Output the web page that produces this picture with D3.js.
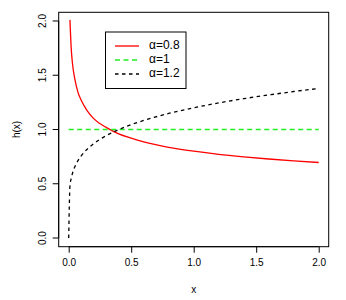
<!DOCTYPE html>
<html>
<head>
<meta charset="utf-8">
<script src="https://cdn.jsdelivr.net/npm/d3@7"></script>
<style>
  body { margin: 0; background: #fff; }
  svg text { font-family: "Liberation Sans", Arial, sans-serif; }
</style>
</head>
<body>
<div class="canvas-container"></div>
<script>

// values
var xs = [0, 0.01, 0.02, 0.03, 0.05, 0.075, 0.1, 0.15, 0.2, 0.3, 0.4, 0.5, 0.6, 0.8, 1.0, 1.2, 1.4, 1.6, 1.8, 2.0];
var h08 = [null, 2.01, 1.75, 1.61, 1.46, 1.34, 1.27, 1.17, 1.10, 1.02, 0.96, 0.92, 0.886, 0.836, 0.80, 0.771, 0.748, 0.728, 0.711, 0.696];
var h10 = [1, 1, 1, 1, 1, 1, 1, 1, 1, 1, 1, 1, 1, 1, 1, 1, 1, 1, 1, 1];
var h12 = [0, 0.478, 0.549, 0.595, 0.659, 0.715, 0.757, 0.821, 0.870, 0.943, 0.999, 1.045, 1.083, 1.148, 1.20, 1.245, 1.284, 1.318, 1.350, 1.378];

var xTicks = [0, 0.5, 1.0, 1.5, 2.0];
var yTicks = [0, 0.5, 1.0, 1.5, 2.0];
var legendLabels = ["\u03b1=0.8", "\u03b1=1", "\u03b1=1.2"];

var width = 346, height = 300;

var svg = d3.select("div.canvas-container")
    .append("svg")
    .attr("width", width)
    .attr("height", height);

var x = d3.scaleLinear().domain([-0.08, 2.08]).range([58.7, 328.7]);
var y = d3.scaleLinear().domain([-0.08, 2.08]).range([246.7, 12.3]);

var series = [
    {vals: h08, color: "#ff0000", dash: null},
    {vals: h10, color: "#22ee22", dash: "5,3.5"},
    {vals: h12, color: "#000000", dash: "3.5,3.5"}
];

series.forEach(function (s) {
    var pts = xs.map(function (d, i) { return [d, s.vals[i]]; })
        .filter(function (p) { return p[1] !== null; });
    svg.append("path")
        .datum(pts)
        .attr("fill", "none")
        .attr("stroke", s.color)
        .attr("stroke-width", 1.3)
        .attr("stroke-dasharray", s.dash)
        .attr("d", d3.line()
              .x(function (p) { return x(p[0]); })
              .y(function (p) { return y(p[1]); })
              .curve(d3.curveMonotoneX));
});

// box
svg.append("rect")
    .attr("x", x.range()[0])
    .attr("y", y.range()[1])
    .attr("width", x.range()[1] - x.range()[0])
    .attr("height", y.range()[0] - y.range()[1])
    .attr("fill", "none")
    .attr("stroke", "#000")
    .attr("stroke-width", 1);

// axes
var xAxis = svg.append("g")
    .attr("transform", "translate(0," + y.range()[0] + ")")
    .call(d3.axisBottom(x).tickValues(xTicks).tickSize(6).tickPadding(6)
          .tickFormat(d3.format(".1f")).tickSizeOuter(0));
xAxis.select(".domain").attr("d", "M" + x(0) + ",0H" + x(2));
xAxis.selectAll("text").attr("font-size", 10).attr("fill", "#000");

var yAxis = svg.append("g")
    .attr("transform", "translate(" + x.range()[0] + ",0)")
    .call(d3.axisLeft(y).tickValues(yTicks).tickSize(6)
          .tickFormat(d3.format(".1f")).tickSizeOuter(0));
yAxis.select(".domain").attr("d", "M0," + y(0) + "V" + y(2));
yAxis.selectAll("text")
    .attr("font-size", 10)
    .attr("fill", "#000")
    .attr("text-anchor", "middle")
    .attr("dy", null)
    .attr("x", null)
    .attr("transform", function (d) { return "translate(-15," + y(d) + ") rotate(-90)"; })
    .attr("y", 0);
yAxis.selectAll(".tick").attr("transform", null);
yAxis.selectAll(".tick line").attr("transform", function (d) { return "translate(0," + y(d) + ")"; });
yAxis.selectAll("text").attr("dominant-baseline", "middle");

svg.append("text")
    .attr("x", x(1))
    .attr("y", 293)
    .attr("text-anchor", "middle")
    .attr("font-size", 10)
    .text("x");

svg.append("text")
    .attr("transform", "translate(20," + y(1) + ") rotate(-90)")
    .attr("text-anchor", "middle")
    .attr("font-size", 10)
    .text("h(x)");

// legend
var leg = svg.append("g");
leg.append("rect")
    .attr("x", 105.5).attr("y", 32)
    .attr("width", 80.5).attr("height", 56.5)
    .attr("fill", "#fff")
    .attr("stroke", "#000")
    .attr("stroke-width", 1);

legendLabels.forEach(function (lab, i) {
    var ly = 46 + i * 14;
    leg.append("line")
        .attr("x1", 115).attr("x2", 139)
        .attr("y1", ly).attr("y2", ly)
        .attr("stroke", series[i].color)
        .attr("stroke-width", 1.3)
        .attr("stroke-dasharray", series[i].dash);
    leg.append("text")
        .attr("x", 149).attr("y", ly)
        .attr("dominant-baseline", "middle")
        .attr("font-size", 12)
        .text(lab);
});

</script>
</body>
</html>
